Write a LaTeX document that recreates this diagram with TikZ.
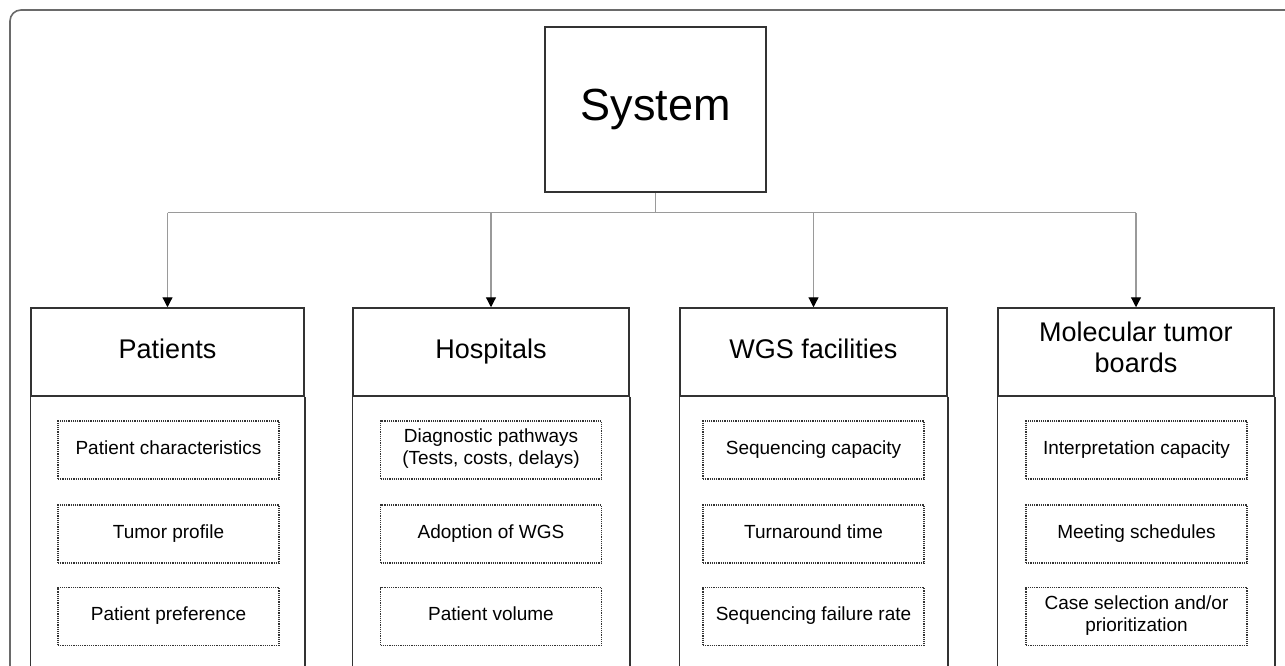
\documentclass[tikz,border=0pt]{standalone}
\usepackage{fontspec}
\setmainfont{Liberation Sans}
\usetikzlibrary{arrows.meta,positioning}
\definecolor{boxline}{HTML}{333333}
\definecolor{connline}{HTML}{9A9A9A}
\definecolor{frameline}{HTML}{6A6A6A}
\tikzset{
  struts/.style={execute at begin node={\strut}, execute at end node={\strut}},
  sysbox/.style={draw=boxline, line width=1.5pt, minimum width=221pt, minimum height=165pt, inner sep=0pt, font=\fontsize{45}{50}\selectfont},
  headbox/.style={draw=boxline, line width=1.5pt, minimum height=88pt, inner sep=0pt, align=center, struts, font=\fontsize{27}{31}\selectfont},
  bodyline/.style={draw=boxline, line width=1.5pt},
  itembox/.style={draw=boxline, densely dotted, line width=1.2pt, minimum width=221pt, minimum height=58pt, inner sep=0pt, align=center, struts, font=\fontsize{19}{22}\selectfont},
  conn/.style={draw=connline, line width=1.2pt},
  connarrow/.style={conn, -{Triangle[length=10pt,width=10pt,fill=black,color=black]}},
  outer/.style={draw=frameline, line width=1.6pt}
}
\begin{document}
\begin{tikzpicture}[x=1pt,y=-1pt]
\useasboundingbox (0,0) rectangle (1285,665);
\clip (0,0) rectangle (1285,665);
\fill[white] (0,0) rectangle (1285,665);
% outer frame (partly outside the picture)
\draw[outer] (10,700) -- (10,21) arc[start angle=180, end angle=270, radius=11] -- (1300,10);

% system box
\node[sysbox] (sys) at (655.5,109.5) {System};

% headers
\node[headbox, minimum width=273pt] (h1) at (167.5,352) {Patients};
\node[headbox, minimum width=276pt] (h2) at (491,352) {Hospitals};
\node[headbox, minimum width=267pt] (h3) at (813.5,352) {WGS facilities};
\node[headbox, minimum width=276pt] (h4) at (1136,352) {Molecular tumor\\boards};

% column bodies
\foreach \h in {h1,h2,h3,h4}{
  \draw[bodyline] (\h.south west) -- ++(0,320);
  \draw[bodyline] (\h.south east) -- ++(0,320);
}

% items
\node[itembox] (p1) at (168.5,450) {Patient characteristics};
\node[itembox] (p2) at (168.5,534) {Tumor profile};
\node[itembox] (p3) at (168.5,616.5) {Patient preference};

\node[itembox] (q1) at (491,450) {Diagnostic pathways\\(Tests, costs, delays)};
\node[itembox] (q2) at (491,534) {Adoption of WGS};
\node[itembox] (q3) at (491,616.5) {Patient volume};

\node[itembox] (r1) at (813.5,450) {Sequencing capacity};
\node[itembox] (r2) at (813.5,534) {Turnaround time};
\node[itembox] (r3) at (813.5,616.5) {Sequencing failure rate};

\node[itembox] (s1) at (1136.5,450) {Interpretation capacity};
\node[itembox] (s2) at (1136.5,534) {Meeting schedules};
\node[itembox] (s3) at (1136.5,616.5) {Case selection and/or\\prioritization};

% connectors
\coordinate (bus) at (655.5,212.5);
\draw[conn] (sys.south) -- (bus);
\draw[conn] (h1.north |- bus) -- (h4.north |- bus);
\foreach \h in {h1,h2,h3,h4}{
  \draw[connarrow] (\h.north |- bus) -- (\h.north);
}
\end{tikzpicture}
\end{document}
